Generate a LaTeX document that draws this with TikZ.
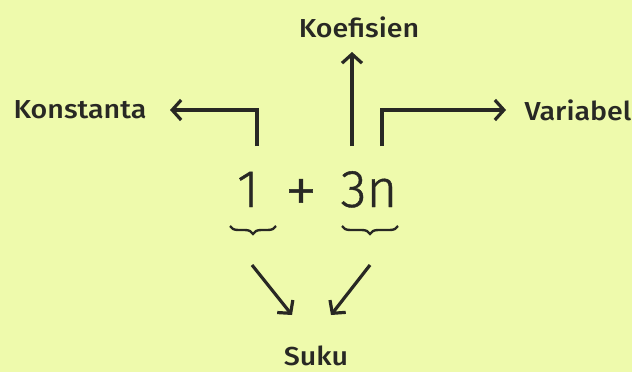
\documentclass[tikz,border=0pt]{standalone}
\usepackage{fontspec}
\setmainfont{Fira Sans}
\newfontfamily\lblfont{Fira Sans Medium}[FakeStretch=1.1]
\newfontfamily\exprfont{Fira Sans Light}[FakeBold=0.8]
\usetikzlibrary{arrows.meta,decorations.pathreplacing}
\definecolor{bgc}{RGB}{238,250,172}
\definecolor{ink}{RGB}{40,40,36}
\tikzset{
  lbl/.style={text=ink, font=\lblfont\fontsize{26}{30}\selectfont, inner sep=0pt},
  expr/.style={text=ink, font=\exprfont\fontsize{53}{60}\selectfont, inner sep=0pt},
  arr/.style={draw=ink, line width=3.2pt, -{Straight Barb[length=9pt,width=20pt,line width=3.2pt]}},
  brc/.style={draw=ink, line width=2.4pt, decorate, decoration={brace, amplitude=8pt}},
}
\begin{document}
\begin{tikzpicture}[x=1pt,y=-1pt]
\fill[bgc] (0,0) rectangle (632,372);
\useasboundingbox (0,0) rectangle (632,372);
\node[lbl] (koef) at (359,27) {Koefisien};
\node[lbl] (konst) at (80,110) {Konstanta};
\node[lbl] (var) at (578,110) {Variabel};
\node[lbl] (suku) at (316,356) {Suku};
\node[expr, anchor=base] (one) at (248,207) {1};
\node[expr, font=\exprfont\fontsize{66}{70}\selectfont] (plus) at (301,196) {+};
\node[expr, anchor=base] (threen) at (369,207) {3n};
% connector ends
\coordinate (konstS) at (257,146);
\coordinate (konstT) at (170,110);
\coordinate (koefS) at (352,146);
\coordinate (koefT) at (352,52);
\coordinate (varS) at (382,146);
\coordinate (varT) at (506,110);
\draw[arr] (konstS) |- (konstT);
\draw[arr] (koefS) -- (koefT);
\draw[arr] (varS) |- (varT);
% braces
\coordinate (b1a) at (276,226);
\coordinate (b1b) at (230,226);
\coordinate (b2a) at (398,226);
\coordinate (b2b) at (342,226);
\draw[brc] (b1a) -- (b1b);
\draw[brc] (b2a) -- (b2b);
% to Suku
\coordinate (sL) at (252,265);
\coordinate (sLT) at (292,315);
\coordinate (sR) at (370,265);
\coordinate (sRT) at (331,315);
\draw[arr] (sL) -- (sLT);
\draw[arr] (sR) -- (sRT);
\end{tikzpicture}
\end{document}
